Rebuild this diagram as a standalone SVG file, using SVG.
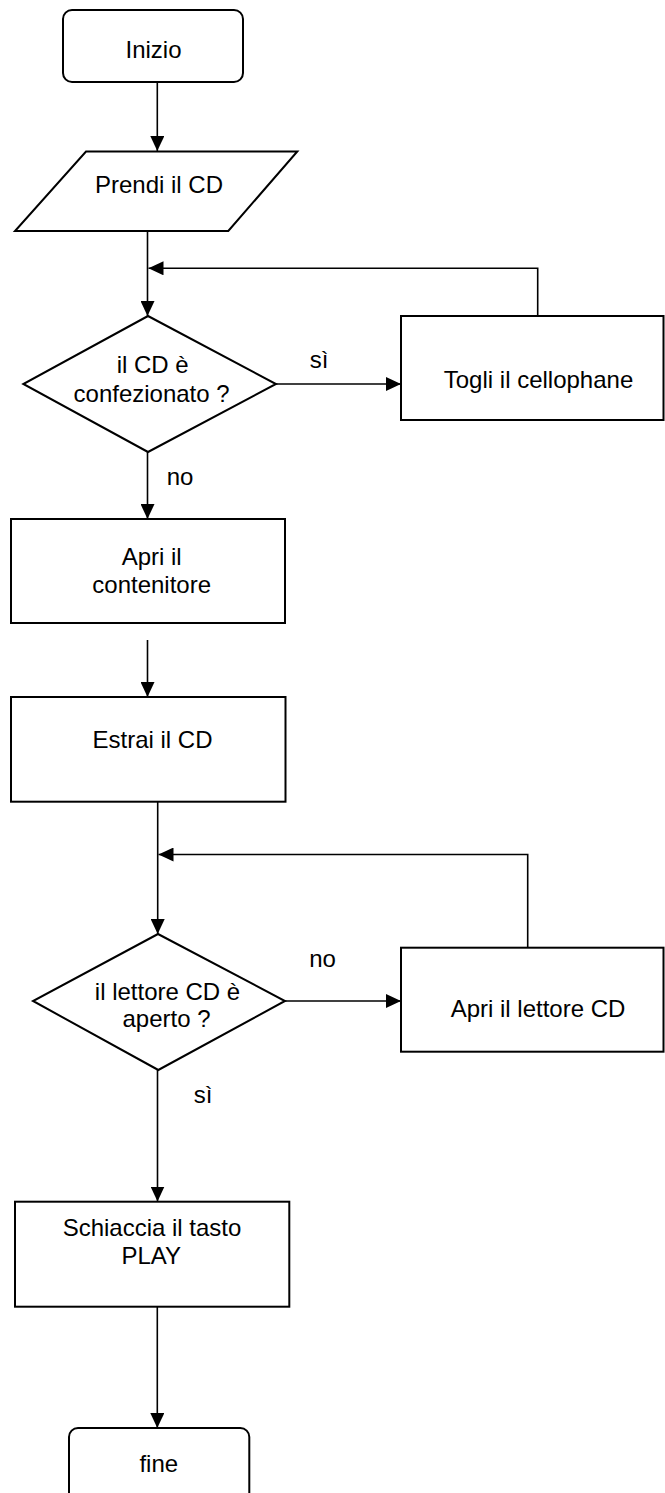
<svg xmlns="http://www.w3.org/2000/svg" width="665" height="1493" viewBox="0 0 665 1493">
<style>
.n{fill:#fff;stroke:#000;stroke-width:2}
.c{fill:none;stroke:#000;stroke-width:1.6}
.t{font-family:"Liberation Sans",Arial,sans-serif;font-size:24px;fill:#000;text-anchor:middle}
</style>
<defs>
<marker id="a" markerUnits="userSpaceOnUse" markerWidth="15" markerHeight="14" refX="15" refY="7" orient="auto" viewBox="0 0 15 14">
<path d="M0,0 L15,7 L0,14 Z" fill="#000"/>
</marker>
</defs>
<g id="connectors">
<line class="c" x1="157.3" y1="82" x2="157.3" y2="151" marker-end="url(#a)"/>
<line class="c" x1="147.5" y1="231" x2="147.5" y2="316" marker-end="url(#a)"/>
<polyline class="c" points="537.7,316 537.7,268.3 148.5,268.3" marker-end="url(#a)"/>
<line class="c" x1="276" y1="384" x2="401" y2="384" marker-end="url(#a)"/>
<line class="c" x1="147.5" y1="452" x2="147.5" y2="519" marker-end="url(#a)"/>
<line class="c" x1="147.5" y1="640" x2="147.5" y2="697" marker-end="url(#a)"/>
<line class="c" x1="157.7" y1="802" x2="157.7" y2="934" marker-end="url(#a)"/>
<polyline class="c" points="527.7,948 527.7,854.5 158.5,854.5" marker-end="url(#a)"/>
<line class="c" x1="285" y1="1001" x2="401" y2="1001" marker-end="url(#a)"/>
<line class="c" x1="157.5" y1="1070" x2="157.5" y2="1201.5" marker-end="url(#a)"/>
<line class="c" x1="157.3" y1="1307" x2="157.3" y2="1428" marker-end="url(#a)"/>
<text class="t" x="319" y="368.3">sì</text>
<text class="t" x="180" y="485">no</text>
<text class="t" x="322.5" y="966.7">no</text>
<text class="t" x="203" y="1103.3">sì</text>
</g>
<g id="inizio">
<rect class="n" x="63" y="10" width="180" height="72" rx="9"/>
<text class="t" x="153.5" y="58.3">Inizio</text>
</g>
<g id="prendi">
<polygon class="n" points="86,151.5 297.3,151.5 228.3,231 15,231"/>
<text class="t" x="159" y="193.3">Prendi il CD</text>
</g>
<g id="dec1">
<polygon class="n" points="148,316 276,384 148,452 23.3,384"/>
<text class="t" x="152.7" y="372.7">il CD è</text>
<text class="t" x="151.6" y="401.7">confezionato ?</text>
</g>
<g id="togli">
<rect class="n" x="401" y="316" width="262.5" height="104"/>
<text class="t" x="538.5" y="388.3">Togli il cellophane</text>
</g>
<g id="apri">
<rect class="n" x="11" y="519" width="274" height="104"/>
<text class="t" x="151.7" y="565">Apri il</text>
<text class="t" x="151.7" y="593">contenitore</text>
</g>
<g id="estrai">
<rect class="n" x="11" y="697" width="274.5" height="104.7"/>
<text class="t" x="152.5" y="748.3">Estrai il CD</text>
</g>
<g id="dec2">
<polygon class="n" points="158,934 285,1001 158.3,1070 33,1001"/>
<text class="t" x="167.5" y="999.5">il lettore CD è</text>
<text class="t" x="166.5" y="1027">aperto ?</text>
</g>
<g id="apriLettore">
<rect class="n" x="401" y="947.7" width="262.5" height="104"/>
<text class="t" x="538" y="1016.7">Apri il lettore CD</text>
</g>
<g id="schiaccia">
<rect class="n" x="15" y="1201.7" width="274.3" height="105"/>
<text class="t" x="152" y="1235.7">Schiaccia il tasto</text>
<text class="t" x="151.3" y="1264">PLAY</text>
</g>
<g id="fine">
<rect class="n" x="69" y="1428" width="180.3" height="90" rx="9"/>
<text class="t" x="158.8" y="1471.7">fine</text>
</g>
</svg>
